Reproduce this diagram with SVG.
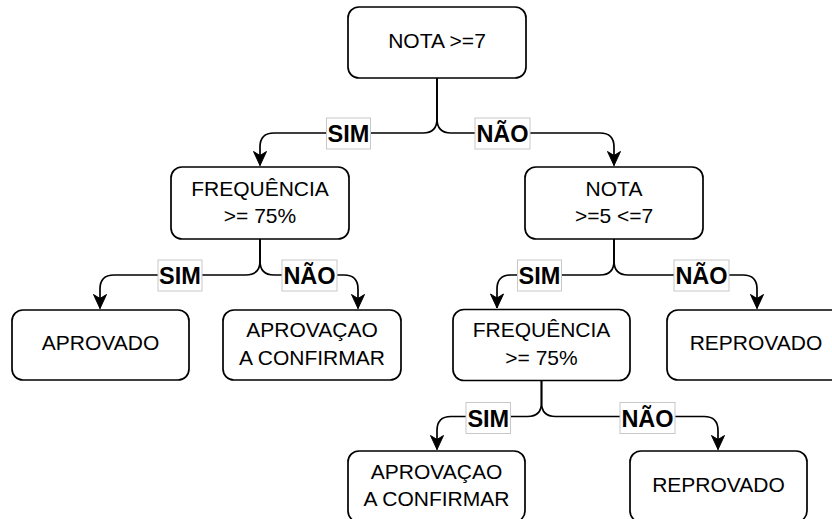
<svg xmlns="http://www.w3.org/2000/svg" width="832" height="519" viewBox="0 0 832 519">
<defs>
<style>
.node rect{fill:#fff;stroke:#000;stroke-width:1.7}
.node text{font-family:"Liberation Sans",Arial,sans-serif;font-size:21px;fill:#000;text-anchor:middle}
.edge{fill:none;stroke:#000;stroke-width:1.7;marker-end:url(#arr)}
.lbl rect{fill:#fff;stroke:#c8c8c8;stroke-width:1}
.lbl text{font-family:"Liberation Sans",Arial,sans-serif;font-size:23.5px;font-weight:bold;fill:#000;text-anchor:middle}
</style>
<marker id="arr" markerUnits="userSpaceOnUse" viewBox="-15 -7 16 14" markerWidth="16" markerHeight="14" refX="0" refY="0" orient="auto">
<path d="M0,0 L-14,-6.5 L-10,0 L-14,6.5 Z" fill="#000" stroke="#000" stroke-width="1"/>
</marker>
</defs>
<rect width="832" height="519" fill="#fff"/>
<g id="connectors">
<path class="edge" d="M437,78 V119 Q437,133 423,133 H274 Q260,133 260,147 V165.5"/>
<path class="edge" d="M437,78 V119 Q437,133 451,133 H600 Q614,133 614,147 V165.5"/>
<path class="edge" d="M260,239 V261 Q260,275 246,275 H114 Q100,275 100,289 V308.5"/>
<path class="edge" d="M260,239 V261 Q260,275 274,275 H344 Q358,275 358,289 V308.5"/>
<path class="edge" d="M614,239 V261 Q614,275 600,275 H511 Q497,275 497,289 V308"/>
<path class="edge" d="M614,239 V261 Q614,275 628,275 H743 Q757,275 757,289 V308.5"/>
<path class="edge" d="M541.5,380.5 V402.5 Q541.5,416.5 527.5,416.5 H451 Q437,416.5 437,430.5 V449.5"/>
<path class="edge" d="M541.5,380.5 V402.5 Q541.5,416.5 555.5,416.5 H704 Q718,416.5 718,430.5 V449.5"/>
<g class="lbl"><rect x="326.5" y="118" width="44" height="31"/><text x="348.5" y="142">SIM</text></g>
<g class="lbl"><rect x="475" y="118" width="55" height="31"/><text x="502.5" y="142">NÃO</text></g>
<g class="lbl"><rect x="158" y="260" width="44" height="31"/><text x="180" y="284">SIM</text></g>
<g class="lbl"><rect x="282" y="260" width="55" height="31"/><text x="309.5" y="284">NÃO</text></g>
<g class="lbl"><rect x="517.5" y="260" width="44" height="31"/><text x="539.5" y="284">SIM</text></g>
<g class="lbl"><rect x="674" y="260" width="55" height="31"/><text x="701.5" y="284">NÃO</text></g>
<g class="lbl"><rect x="466" y="402.5" width="44.5" height="31"/><text x="488.3" y="426.5">SIM</text></g>
<g class="lbl"><rect x="620" y="402.5" width="55" height="31"/><text x="647.5" y="426.5">NÃO</text></g>
</g>
<g id="n1" class="node"><rect x="348" y="7" width="178" height="71" rx="11"/><text x="437" y="47.5">NOTA &gt;=7</text></g>
<g id="n2" class="node"><rect x="171" y="167" width="178" height="72" rx="11"/><text x="260" y="196">FREQUÊNCIA</text><text x="260" y="223">&gt;= 75%</text></g>
<g id="n3" class="node"><rect x="525" y="167" width="178" height="72" rx="11"/><text x="614" y="195.5">NOTA</text><text x="614" y="222.7">&gt;=5 &lt;=7</text></g>
<g id="n4" class="node"><rect x="12" y="310" width="177" height="70" rx="11"/><text x="100.5" y="349.5">APROVADO</text></g>
<g id="n5" class="node"><rect x="223" y="310" width="178" height="70" rx="11"/><text x="312" y="337">APROVAÇAO</text><text x="312" y="364.5">A CONFIRMAR</text></g>
<g id="n6" class="node"><rect x="453" y="309.5" width="177" height="71" rx="11"/><text x="541.5" y="337.3">FREQUÊNCIA</text><text x="541.5" y="364.5">&gt;= 75%</text></g>
<g id="n7" class="node"><rect x="667" y="310" width="178" height="70" rx="11"/><text x="756" y="350">REPROVADO</text></g>
<g id="n8" class="node"><rect x="348" y="451" width="177" height="71" rx="11"/><text x="436.5" y="478.5">APROVAÇAO</text><text x="436.5" y="505.5">A CONFIRMAR</text></g>
<g id="n9" class="node"><rect x="630" y="451" width="177" height="71" rx="11"/><text x="718.5" y="491.5">REPROVADO</text></g>
</svg>
